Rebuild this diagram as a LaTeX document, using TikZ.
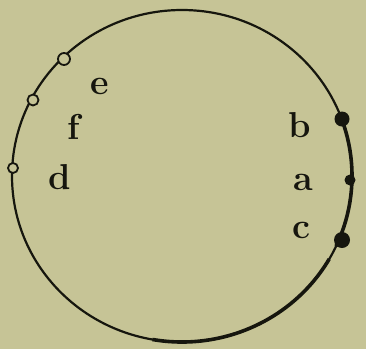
\documentclass[tikz,border=0pt]{standalone}
\definecolor{paper}{RGB}{198,196,150}
\definecolor{ink}{RGB}{22,22,14}
\begin{document}
\begin{tikzpicture}[x=1pt,y=-1pt,
  lbl/.style={text=ink,font=\fontsize{36}{36}\selectfont\bfseries,inner sep=0pt},
  fulldot/.style={circle,fill=ink,inner sep=0pt},
  opendot/.style={circle,draw=ink,fill=paper,line width=1.8pt,inner sep=0pt}]
\fill[paper] (0,0) rectangle (366,349);
\useasboundingbox (0,0) rectangle (366,349);
\draw[ink,line width=2.2pt] (182,176) ellipse [x radius=170,y radius=166];
% thicker arcs on right and bottom (y axis points down, so positive angles are below)
\draw[ink,line width=3.6pt] (182,176) ++(-22:170 and 166) arc[start angle=-22,end angle=25,x radius=170,y radius=166];
\draw[ink,line width=3.6pt] (182,176) ++(30:170 and 166) arc[start angle=30,end angle=100,x radius=170,y radius=166];
\node[fulldot,minimum size=15pt] (b) at (342,119) {};
\node[fulldot,minimum size=11pt] (a) at (350,180) {};
\node[fulldot,minimum size=16pt] (c) at (342,240) {};
\node[opendot,minimum size=12pt] (p1) at (64,59) {};
\node[opendot,minimum size=11pt] (p2) at (33,100) {};
\node[opendot,minimum size=10pt] (p3) at (13,168) {};
\node[lbl] (le) at (100,86) {e};
\node[lbl] (lf) at (74,127) {f};
\node[lbl] (ld) at (60,177) {d};
\node[lbl] (lb) at (300,125) {b};
\node[lbl] (la) at (303,182) {a};
\node[lbl] (lc) at (301,230) {c};
\end{tikzpicture}
\end{document}
